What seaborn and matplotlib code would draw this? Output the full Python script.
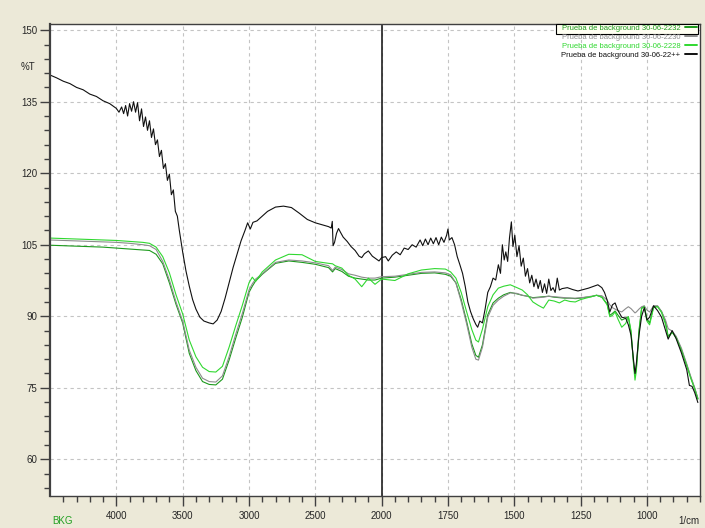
import numpy as np
import pandas as pd
import matplotlib
matplotlib.use("Agg")
import matplotlib.pyplot as plt
from matplotlib.patches import Rectangle
from matplotlib.ticker import FixedLocator, MultipleLocator
import seaborn as sns

# FTIR background tests: %T vs wavenumber, IR style split axis (expanded below 2000)

wn_bg = [4500, 4400, 4300, 4200, 4100, 4000, 3900, 3800, 3750, 3700, 3650, 3600,
         3550, 3500, 3450, 3400, 3350, 3300, 3250, 3200, 3150, 3100, 3050, 3000,
         2975, 2950, 2900, 2800, 2700, 2600, 2500, 2400, 2370, 2350, 2300, 2250,
         2200, 2150, 2100, 2050, 2000, 1950, 1900, 1850, 1800, 1760, 1740, 1720,
         1700, 1680, 1660, 1645, 1635, 1620, 1600, 1580, 1560, 1540, 1515, 1490,
         1470, 1450, 1430, 1410, 1390, 1370, 1350, 1330, 1310, 1290, 1270, 1250,
         1230, 1210, 1190, 1170, 1150, 1140, 1130, 1120, 1110, 1095, 1080, 1070,
         1060, 1050, 1045, 1040, 1030, 1020, 1010, 1000, 990, 975, 960, 945,
         930, 920, 905, 890, 870, 850, 835, 820, 808]

t_2232 = [104.9, 104.8, 104.7, 104.6, 104.5, 104.3, 104.1, 103.9, 103.8, 103.0, 101.0, 97.0,
          92.5, 88.6, 82.2, 78.6, 76.3, 75.7, 75.6, 76.8, 80.8, 85.4, 89.8, 95.0,
          96.3, 97.4, 98.8, 101.1, 101.6, 101.3, 100.9, 100.2, 99.3, 100.0, 99.4, 98.4,
          98.0, 97.8, 97.6, 97.6, 98.0, 98.2, 98.6, 99.0, 99.1, 98.8, 98.4, 97.0,
          93.5, 89.0, 84.2, 81.8, 81.4, 84.0, 90.3, 92.8, 93.8, 94.5, 95.0, 94.7,
          94.4, 94.2, 93.9, 94.0, 94.1, 94.2, 94.0, 93.9, 93.8, 93.8, 93.7, 93.8,
          94.0, 94.1, 94.4, 94.0, 92.6, 90.2, 90.6, 91.1, 90.3, 89.2, 89.6, 89.9,
          86.5, 80.0, 77.6, 79.0, 87.0, 91.8, 92.1, 89.5, 88.6, 92.0, 92.1, 91.0,
          88.8, 85.8, 86.7, 85.6, 83.0, 79.8, 77.2, 74.9, 72.7]

t_2230 = [106.0, 105.9, 105.8, 105.7, 105.6, 105.5, 105.3, 105.0, 104.8, 104.0, 101.5, 97.6,
          93.0, 89.0, 82.9, 79.3, 77.0, 76.3, 76.2, 77.5, 81.5, 86.2, 90.6, 95.5,
          96.8, 97.8, 98.9, 101.3, 101.8, 101.6, 101.2, 100.6, 99.6, 100.3, 99.8, 98.9,
          98.6, 98.2, 98.0, 98.0, 98.3, 98.4, 98.8, 99.2, 99.3, 99.1, 98.7, 97.0,
          93.0, 88.5, 83.5, 81.0, 80.8, 83.5, 89.8, 92.3, 93.4, 94.2, 94.9, 94.8,
          94.4, 94.2, 93.8, 93.9, 94.0, 94.2, 94.1, 94.0, 93.9, 93.8, 93.8, 93.9,
          94.0, 94.2, 94.4, 94.3, 93.4, 92.4, 91.8, 91.5, 91.2, 90.9, 91.6, 92.0,
          91.6, 91.0, 90.7, 90.9, 91.5, 92.0, 92.2, 91.3, 90.9, 92.2, 92.2, 91.0,
          89.2, 87.4, 86.9, 85.8, 83.3, 80.0, 77.4, 75.0, 72.8]

t_2228 = [106.4, 106.3, 106.2, 106.1, 106.0, 105.9, 105.7, 105.5, 105.3, 104.5, 102.5, 99.1,
          94.5, 90.5, 85.0, 81.5, 79.3, 78.4, 78.3, 79.5, 83.5, 88.0, 92.3, 97.0,
          98.2, 97.3, 99.3, 101.8, 103.0, 102.9, 101.5, 101.1, 101.0, 100.6, 100.1, 98.6,
          97.8, 96.2, 98.0, 96.7, 97.8, 97.5, 98.9, 99.7, 100.0, 99.9, 99.3, 98.0,
          95.0, 91.0, 87.2, 85.0, 84.6, 87.3, 92.0, 94.5, 95.9, 96.3, 96.6, 96.0,
          95.5, 94.5, 93.0, 92.3, 91.7, 93.4, 93.2, 92.8, 93.4, 93.1, 93.0, 93.5,
          93.8, 94.1, 94.4, 94.0, 92.4, 89.9, 90.2, 90.9, 89.5, 87.7, 88.5, 89.9,
          87.0, 79.5, 76.6, 78.5, 86.5, 91.6, 92.0, 89.0, 88.2, 91.8, 92.0, 90.8,
          88.3, 85.5, 86.6, 85.5, 82.8, 79.6, 77.0, 74.7, 72.6]

wn_2244 = [4500, 4450, 4400, 4350, 4300, 4250, 4200, 4150, 4100, 4050, 4000, 3980,
           3960, 3945, 3930, 3915, 3900, 3885, 3870, 3855, 3840, 3825, 3810, 3795,
           3780, 3765, 3750, 3735, 3720, 3705, 3690, 3675, 3660, 3645, 3630, 3615,
           3600, 3585, 3570, 3555, 3540, 3525, 3500, 3475, 3450, 3425, 3400, 3370,
           3340, 3300, 3270, 3240, 3210, 3180, 3150, 3120, 3090, 3060, 3030, 3010,
           2990, 2970, 2940, 2900, 2860, 2800, 2740, 2680, 2620, 2560, 2500, 2450,
           2400, 2380, 2372, 2366, 2355, 2340, 2325, 2310, 2290, 2260, 2230, 2200,
           2170, 2150, 2130, 2100, 2070, 2040, 2020, 2000, 1985, 1975, 1960, 1945,
           1930, 1915, 1900, 1885, 1870, 1855, 1845, 1835, 1825, 1815, 1805, 1795,
           1785, 1775, 1765, 1755, 1750, 1745, 1735, 1725, 1715, 1705, 1695, 1685,
           1675, 1665, 1655, 1645, 1638, 1630, 1620, 1610, 1600, 1590, 1580, 1570,
           1560, 1552, 1545, 1538, 1532, 1525, 1518, 1511, 1505, 1498, 1490, 1482,
           1474, 1466, 1458, 1450, 1442, 1434, 1426, 1418, 1410, 1402, 1394, 1386,
           1378, 1370, 1362, 1354, 1346, 1338, 1330, 1320, 1300, 1280, 1260, 1240,
           1220, 1200, 1185, 1170, 1160, 1150, 1140, 1130, 1120, 1110, 1095, 1080,
           1070, 1060, 1050, 1045, 1040, 1030, 1020, 1010, 1000, 990, 975, 960,
           945, 930, 920, 905, 890, 870, 850, 840, 830, 820, 808]

t_2244 = [140.6, 140.0, 139.3, 138.8, 138.0, 137.5, 136.6, 136.1, 135.2, 134.6, 133.6, 132.8,
          133.9, 132.5, 134.2, 132.0, 134.6, 133.0, 135.0, 132.8, 134.8, 131.0, 133.5, 129.8,
          131.8, 129.0, 131.0, 127.5, 129.3, 126.0, 127.0, 123.5, 124.8, 121.0, 122.0, 118.5,
          119.8, 115.5, 116.5, 112.0, 111.0, 108.0, 103.5, 99.5, 96.3, 93.5, 91.5, 89.8,
          89.0, 88.6, 88.4, 89.2, 91.0, 93.8, 97.0, 100.2, 103.0, 105.8, 108.0, 109.6,
          108.3, 109.7, 110.0, 111.0, 112.0, 112.9, 113.1, 112.8, 111.6, 110.3, 109.6, 109.2,
          108.8, 108.5, 109.9, 104.8, 105.5, 107.4, 108.4, 107.6, 106.6, 105.7, 104.6, 103.8,
          102.6, 102.3, 103.1, 103.7, 102.6, 102.0, 101.6, 102.3, 102.5, 101.6, 102.8, 103.5,
          102.9, 104.3, 104.0, 105.0, 104.5, 106.0, 104.8, 106.2, 105.0, 106.4, 105.2, 106.5,
          105.0, 106.6, 105.5, 107.0, 108.3, 106.0, 106.5, 105.0, 102.5, 100.8, 99.0, 96.3,
          93.0, 91.0, 89.5, 88.3, 87.7, 89.0, 88.6, 91.5, 95.0, 96.2, 98.0, 97.6,
          100.8, 99.0, 105.0, 101.8, 103.5, 101.5, 106.5, 109.8, 104.6, 107.0, 102.5, 104.8,
          100.5, 102.2, 98.4, 100.0, 97.0, 98.6, 96.2, 97.8, 95.8, 97.5, 95.0, 96.8,
          94.8, 97.8, 95.4, 96.0, 95.0, 98.0, 95.5, 95.8, 96.0, 95.6, 95.3, 95.6,
          95.9, 96.3, 96.6, 96.0, 95.0, 93.4, 90.9, 92.4, 92.8, 91.3, 89.8, 89.6,
          88.2, 86.0, 80.5, 78.0, 80.0, 86.0, 90.0, 91.8, 89.2, 89.8, 92.2, 91.2,
          89.8, 87.0, 85.2, 87.0, 85.3, 82.3, 78.8, 75.5, 75.3, 74.0, 71.9]

labels = ["Prueba de background 30-06-2232", "Prueba de background 30-06-2230",
          "Prueba de background 30-06-2228", "Prueba de background 30-06-22++"]
colors = ["#1c9a1c", "#8c8c8c", "#30d830", "#101010"]

x_major = [4000, 3500, 3000, 2500, 2000, 1750, 1500, 1250, 1000]
x_minor = [4400, 4300, 4200, 4100, 3900, 3800, 3700, 3600, 3400, 3300, 3200, 3100,
           2900, 2800, 2700, 2600, 2400, 2300, 2200, 2100, 1950, 1900, 1850, 1800,
           1700, 1650, 1600, 1550, 1450, 1400, 1350, 1300, 1200, 1150, 1100, 1050,
           950, 900, 850, 800]

series = [(labels[0], wn_bg, t_2232), (labels[1], wn_bg, t_2230),
          (labels[2], wn_bg, t_2228), (labels[3], wn_2244, t_2244)]
df = pd.concat([pd.DataFrame({"wn": w, "T": t, "muestra": lab}) for lab, w, t in series],
               ignore_index=True)

sns.set_style("white")
plt.rcParams["font.family"] = ["Liberation Sans", "DejaVu Sans"]

W, H = 705, 528
fig = plt.figure(figsize=(W / 100, H / 100), dpi=100, facecolor="#ECE9D8")
ax = fig.add_axes([50 / W, 1 - 496 / H, 650 / W, 472 / H])
ax.set_facecolor("white")


def fwd(x):
    x = np.asarray(x, dtype=float)
    return np.where(x >= 2000, x, 2 * x - 2000)


def inv(y):
    y = np.asarray(y, dtype=float)
    return np.where(y >= 2000, y, (y + 2000) / 2)


sns.lineplot(data=df, x="wn", y="T", hue="muestra", hue_order=labels,
             palette=dict(zip(labels, colors)), estimator=None, sort=False,
             lw=0.8, ax=ax)

ax.set_xscale("function", functions=(fwd, inv))
ax.set_xlim(4500, 800)
ax.set_ylim(52.3, 151.3)
ax.xaxis.set_major_locator(FixedLocator(x_major))
ax.xaxis.set_minor_locator(FixedLocator(x_minor))
ax.yaxis.set_major_locator(MultipleLocator(15))
ax.yaxis.set_minor_locator(MultipleLocator(3))
ax.set_xticklabels([str(v) for v in x_major])
ax.set_xlabel("")
ax.set_ylabel("")

ax.grid(True, which="major", color="#c4c4c4", ls=(0, (3, 3)), lw=0.8)
ax.axvline(2000, color="#202020", lw=1.2, zorder=1.5)

ax.tick_params(which="both", bottom=True, left=True, direction="out",
               color="#404040", width=1, labelsize=7, pad=2)
ax.tick_params(which="major", length=7)
ax.tick_params(which="minor", length=4)
ax.tick_params(axis="x", which="major", pad=4)
for s in ax.spines.values():
    s.set_color("#404040")
    s.set_linewidth(1)
ax.spines["left"].set_linewidth(1.6)

handles, labs = ax.get_legend_handles_labels()
leg = ax.legend(handles, labs, loc="upper right", bbox_to_anchor=(697 / W, 1 - 24.5 / H),
                bbox_transform=fig.transFigure, frameon=False, markerfirst=False,
                labelcolor="linecolor", fontsize=5.5, handlelength=1.6,
                handletextpad=0.6, labelspacing=0.22, borderpad=0, borderaxespad=0)
for ln in leg.get_lines():
    ln.set_linewidth(1.4)

sel = Rectangle((556 / W, 1 - 33.5 / H), 142 / W, 10 / H, transform=fig.transFigure,
                facecolor="#fffff2", edgecolor="black", lw=0.8, zorder=4.5, clip_on=False)
ax.add_artist(sel)

fig.text(28 / W, 1 - 67 / H, "%T", ha="center", va="center", fontsize=7)
fig.text(52 / W, 1 - 521 / H, "BKG", ha="left", va="center", fontsize=7, color="#22a022")
fig.text(699 / W, 1 - 521 / H, "1/cm", ha="right", va="center", fontsize=7)

fig.savefig("out.png", dpi=100, facecolor=fig.get_facecolor())
